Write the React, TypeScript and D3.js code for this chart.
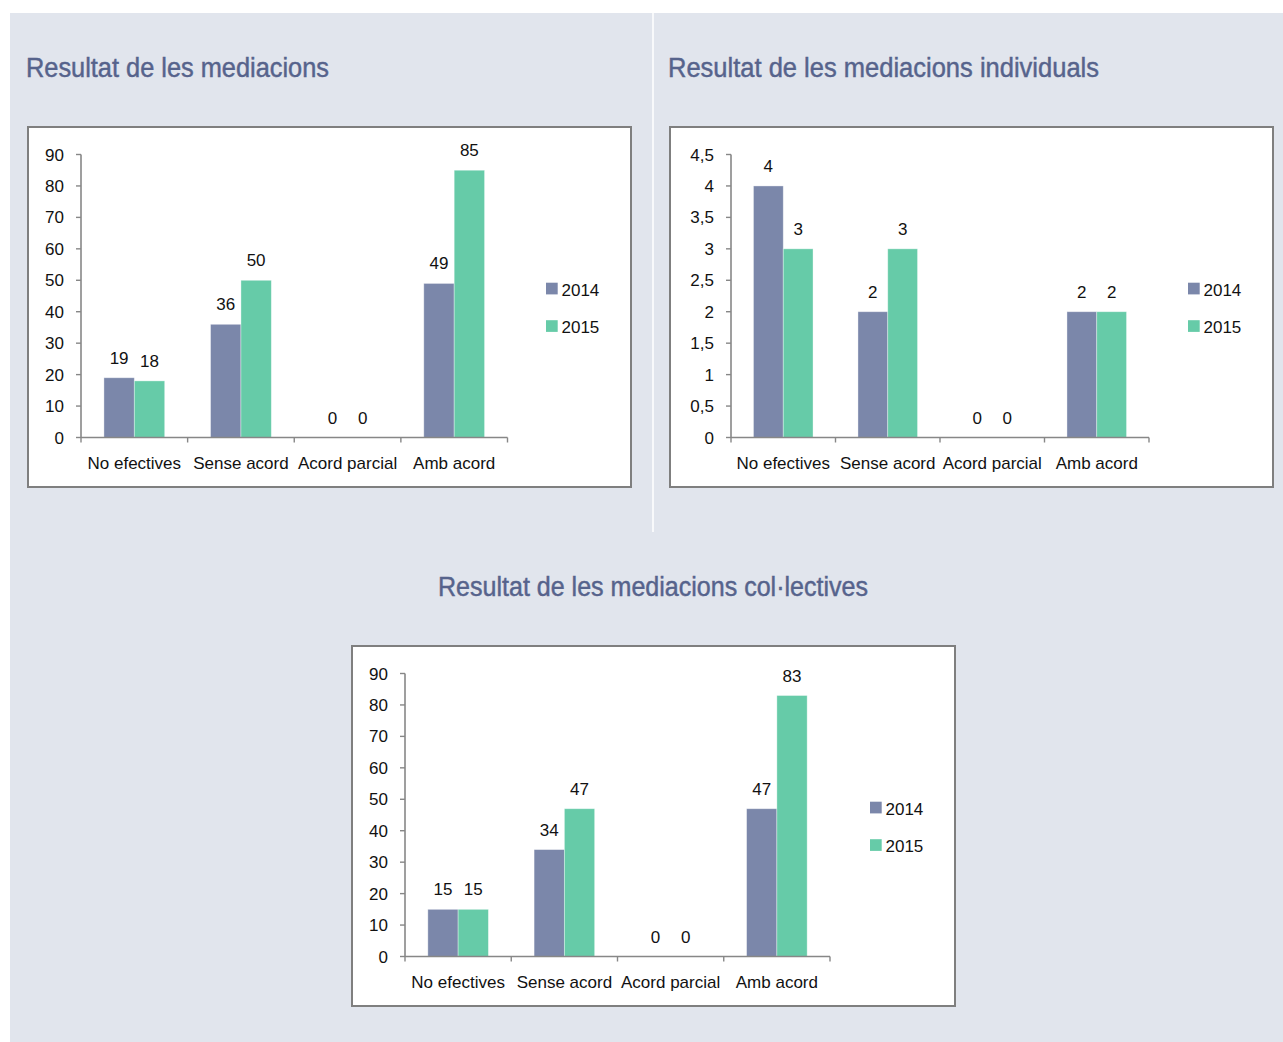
import React from "react";
import * as d3 from "d3";

const categories = ["No efectives", "Sense acord", "Acord parcial", "Amb acord"];
const seriesNames = ["2014", "2015"];

const mediacions2014 = [19, 36, 0, 49];
const mediacions2015 = [18, 50, 0, 85];
const individuals2014 = [4, 2, 0, 2];
const individuals2015 = [3, 3, 0, 2];
const collectives2014 = [15, 34, 0, 47];
const collectives2015 = [15, 47, 0, 83];

const ticksTens = [0, 10, 20, 30, 40, 50, 60, 70, 80, 90];
const ticksHalves = [0, 0.5, 1, 1.5, 2, 2.5, 3, 3.5, 4, 4.5];

const titleMediacions = "Resultat de les mediacions";
const titleIndividuals = "Resultat de les mediacions individuals";
const titleCollectives = "Resultat de les mediacions col·lectives";

const COLORS = ["#7b87aa", "#66cba8"];
const FONT = "'Liberation Sans', Arial, sans-serif";
const AXIS = "#878787";
const fmtComma = (v: number) => String(v).replace(".", ",");

type ChartProps = {
  bx: number;
  by: number;
  plotLeft: number;
  plotRight: number;
  yMax: number;
  ticks: number[];
  a: number[];
  b: number[];
};

function Chart({ bx, by, plotLeft, plotRight, yMax, ticks, a, b }: ChartProps) {
  const W = 603;
  const H = 360;
  const top = 27.5;
  const bottom = 310.5;
  const y = d3.scaleLinear().domain([0, yMax]).range([bottom, top]);
  const x0 = d3.scaleBand<string>().domain(categories).range([plotLeft, plotRight]).padding(0);
  const bw = x0.bandwidth();
  const gw = bw * 0.57;
  const x1 = d3.scaleBand<string>().domain(seriesNames).range([0, gw]).padding(0);
  const data = [a, b];
  const boundaries = categories.map((c) => x0(c) as number).concat([plotRight]);
  return (
    <g transform={`translate(${bx},${by})`}>
      <rect x={1} y={1} width={W} height={H} fill="#b9bcc2" opacity={0.6} />
      <rect x={0} y={0} width={W} height={H} fill="#ffffff" stroke="#7f7f7f" strokeWidth={2} />
      {categories.map((c, i) =>
        seriesNames.map((s, j) => {
          const v = data[j][i];
          const bxp = (x0(c) as number) + (bw - gw) / 2 + (x1(s) as number);
          const w = x1.bandwidth();
          return (
            <g key={c + s}>
              {v > 0 && (
                <rect
                  x={bxp}
                  y={y(v)}
                  width={w}
                  height={y(0) - y(v)}
                  fill={COLORS[j]}
                  stroke="rgba(255,255,255,0.45)"
                  strokeWidth={0.8}
                />
              )}
              <text
                x={bxp + w / 2}
                y={y(v) - 14}
                textAnchor="middle"
                fontFamily={FONT}
                fontSize={17}
                fill="#111"
              >
                {fmtComma(v)}
              </text>
            </g>
          );
        })
      )}
      <line x1={plotLeft} x2={plotLeft} y1={top} y2={bottom} stroke={AXIS} strokeWidth={1.6} />
      {ticks.map((t) => (
        <g key={t}>
          <line x1={plotLeft - 5} x2={plotLeft} y1={y(t)} y2={y(t)} stroke={AXIS} strokeWidth={1.4} />
          <text
            x={plotLeft - 17}
            y={y(t) + 6}
            textAnchor="end"
            fontFamily={FONT}
            fontSize={17}
            fill="#111"
          >
            {fmtComma(t)}
          </text>
        </g>
      ))}
      <line x1={plotLeft} x2={plotRight} y1={bottom} y2={bottom} stroke={AXIS} strokeWidth={1.6} />
      {boundaries.map((bv, i) => (
        <line key={i} x1={bv} x2={bv} y1={bottom} y2={bottom + 5} stroke={AXIS} strokeWidth={1.4} />
      ))}
      {categories.map((c) => (
        <text
          key={c}
          x={(x0(c) as number) + bw / 2}
          y={342}
          textAnchor="middle"
          fontFamily={FONT}
          fontSize={17}
          fill="#111"
        >
          {c}
        </text>
      ))}
      {seriesNames.map((s, j) => (
        <g key={s} transform={`translate(518,${155.7 + j * 37.5})`}>
          <rect x={0} y={0} width={11.7} height={11.7} fill={COLORS[j]} />
          <text x={15.5} y={13} fontFamily={FONT} fontSize={17} fill="#111">
            {s}
          </text>
        </g>
      ))}
    </g>
  );
}

export default function App() {
  const titleStyle = {
    fontFamily: FONT,
    fontSize: 27,
    fill: "#56638c",
    stroke: "#56638c",
    strokeWidth: 0.45,
  };
  return (
    <svg
      width={1283}
      height={1042}
      style={{ position: "absolute", left: 0, top: 0, display: "block" }}
    >
      <rect x={0} y={0} width={1283} height={1042} fill="#ffffff" />
      <rect x={10} y={13} width={1273} height={1029} fill="#e1e5ed" />
      <line x1={653} x2={653} y1={13} y2={532} stroke="#ffffff" strokeWidth={1.5} />

      <text x={26} y={77} {...titleStyle} textLength={303} lengthAdjust="spacingAndGlyphs">
        {titleMediacions}
      </text>
      <text x={668} y={77} {...titleStyle} textLength={431} lengthAdjust="spacingAndGlyphs">
        {titleIndividuals}
      </text>
      <text x={438} y={596} {...titleStyle} textLength={430} lengthAdjust="spacingAndGlyphs">
        {titleCollectives}
      </text>

      <Chart bx={28} by={127} plotLeft={53} plotRight={479.5} yMax={90} ticks={ticksTens} a={mediacions2014} b={mediacions2015} />
      <Chart bx={670} by={127} plotLeft={61} plotRight={479} yMax={4.5} ticks={ticksHalves} a={individuals2014} b={individuals2015} />
      <Chart bx={352} by={646} plotLeft={53} plotRight={478} yMax={90} ticks={ticksTens} a={collectives2014} b={collectives2015} />
    </svg>
  );
}
